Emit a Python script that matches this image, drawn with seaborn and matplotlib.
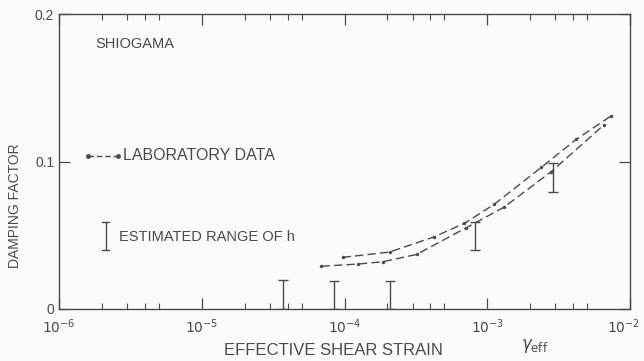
import numpy as np
import pandas as pd
import matplotlib
matplotlib.use("Agg")
import matplotlib.pyplot as plt
import matplotlib.transforms as mtrans
import seaborn as sns
from matplotlib.ticker import LogLocator, FixedLocator, NullFormatter

# ---- data ----
upper_strain = [9.7e-5, 2.07e-4, 4.26e-4, 6.9e-4, 1.12e-3, 2.39e-3, 4.2e-3, 7.4e-3]
upper_h = [0.035, 0.0386, 0.049, 0.058, 0.071, 0.096, 0.115, 0.131]
lower_strain = [6.9e-5, 1.25e-4, 1.85e-4, 3.2e-4, 7.1e-4, 1.31e-3, 2.8e-3, 6.6e-3]
lower_h = [0.029, 0.0305, 0.032, 0.037, 0.055, 0.069, 0.093, 0.125]

range_strain = [3.7e-5, 8.4e-5, 2.1e-4, 8.2e-4, 2.9e-3]
range_low = [0.0, 0.0, 0.0, 0.040, 0.079]
range_high = [0.020, 0.019, 0.019, 0.059, 0.099]

x_ticks = [1e-6, 1e-5, 1e-4, 1e-3, 1e-2]
x_ticklabels = [r"$10^{-6}$", r"$10^{-5}$", r"$10^{-4}$", r"$10^{-3}$", r"$10^{-2}$"]
y_ticks = [0.0, 0.1, 0.2]
y_ticklabels = ["0", "0.1", "0.2"]

sns.set_theme(style="white")
plt.rcParams["font.family"] = ["Liberation Sans", "DejaVu Sans"]

ink = "#4a4a4a"
fig = plt.figure(figsize=(6.44, 3.61), dpi=100)
fig.patch.set_facecolor("#fbfbfb")
ax = fig.add_axes([59 / 644, 1 - 309 / 361, (630 - 59) / 644, (309 - 14) / 361])
ax.set_facecolor("#fbfbfb")

df = pd.concat([
    pd.DataFrame({"strain": upper_strain, "h": upper_h, "set": "upper"}),
    pd.DataFrame({"strain": lower_strain, "h": lower_h, "set": "lower"}),
])
sns.lineplot(data=df, x="strain", y="h", units="set", estimator=None, ax=ax,
             color=ink, lw=1.0, marker="o", markersize=2.5, markeredgewidth=0,
             dashes=False, linestyle=(0, (6, 3)), legend=False)

lo = np.array(range_low)
hi = np.array(range_high)
mid = (lo + hi) / 2
ax.errorbar(range_strain, mid, yerr=(hi - lo) / 2, fmt="none", ecolor=ink,
            elinewidth=1.0, capsize=3.5, capthick=1.0)

ax.set_xscale("log")
ax.set_xlim(1e-6, 1e-2)
ax.set_ylim(0, 0.2)
ax.xaxis.set_major_locator(FixedLocator(x_ticks))
ax.set_xticklabels(x_ticklabels)
ax.xaxis.set_minor_locator(LogLocator(base=10, subs=[2, 3, 4, 5]))
ax.xaxis.set_minor_formatter(NullFormatter())
ax.set_yticks(y_ticks)
ax.set_yticklabels(y_ticklabels)

ax.tick_params(axis="both", which="major", direction="in", length=8, width=0.9,
               colors=ink, labelsize=10, top=True, right=True, bottom=True, left=True)
ax.tick_params(axis="x", which="minor", direction="in", length=4, width=0.8,
               colors=ink, top=True, bottom=True)
ax.tick_params(axis="x", which="major", pad=6)
for s in ax.spines.values():
    s.set_color(ink)
    s.set_linewidth(1.0)

# keep the last x tick label inside the figure
last = ax.get_xticklabels()[-1]
last.set_transform(last.get_transform() + mtrans.ScaledTranslation(-6 / 100, 0, fig.dpi_scale_trans))

ax.set_xlabel("EFFECTIVE SHEAR STRAIN", fontsize=12, color=ink)
ax.xaxis.set_label_coords(0.48, -0.115)
ax.set_ylabel("DAMPING FACTOR", fontsize=10, color=ink)
ax.yaxis.set_label_coords(-0.065, 0.35)

ax.text(0.834, -0.125, r"$\gamma_{\mathrm{eff}}$", transform=ax.transAxes,
        fontsize=12, color=ink, ha="center", va="center")

ax.text(0.063, 0.90, "SHIOGAMA", transform=ax.transAxes, fontsize=10.5,
        color=ink, ha="left", va="center")

# legend keys
ax.plot([0.05, 0.103], [0.52, 0.52], transform=ax.transAxes, color=ink, lw=1.0,
        linestyle=(0, (4, 2)), marker="o", markersize=2.5, markevery=[0, 1])
ax.text(0.112, 0.52, "LABORATORY DATA", transform=ax.transAxes, fontsize=11.5,
        color=ink, ha="left", va="center")
ax.plot([0.082, 0.082], [0.295, 0.20], transform=ax.transAxes, color=ink, lw=1.0)
ax.plot([0.076, 0.088], [0.295, 0.295], transform=ax.transAxes, color=ink, lw=1.0)
ax.plot([0.076, 0.088], [0.20, 0.20], transform=ax.transAxes, color=ink, lw=1.0)
ax.text(0.105, 0.245, "ESTIMATED RANGE OF h", transform=ax.transAxes,
        fontsize=10.5, color=ink, ha="left", va="center")

fig.savefig("out.png", dpi=100, facecolor=fig.get_facecolor())
